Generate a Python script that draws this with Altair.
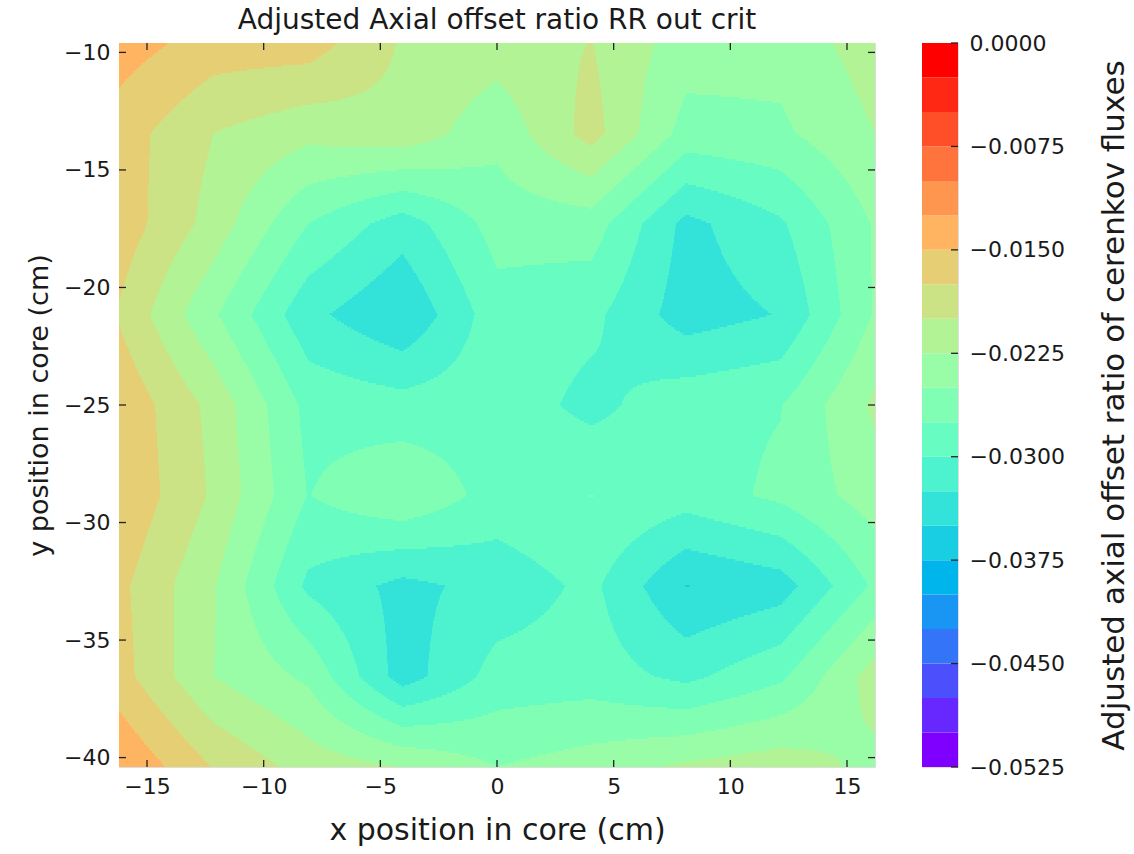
import numpy as np
import pandas as pd
import altair as alt

# ---- grid nodes of the measured field (x across, y down from top) ----
x_nodes = [-16.2, -12.15, -8.1, -4.05, 0.0, 4.05, 8.1, 12.15, 16.2]
y_nodes = [-9.6, -13.45, -17.3, -21.15, -25.0, -28.85, -32.7, -36.55, -40.4]

# adjusted axial offset ratio at each node, one list per y row (top to bottom)
row_y0 = [-0.01375, -0.016125, -0.01625, -0.02025, -0.02125, -0.01995, -0.02375, -0.0240, -0.02125]
row_y1 = [-0.01625, -0.0200, -0.02175, -0.020825, -0.02425, -0.0190, -0.0260, -0.0255, -0.0225]
row_y2 = [-0.0160, -0.0210, -0.0275, -0.031325, -0.0265, -0.02625, -0.03325, -0.030375, -0.02475]
row_y3 = [-0.01775, -0.024625, -0.0318, -0.034875, -0.0285, -0.02935, -0.03375, -0.032375, -0.02475]
row_y4 = [-0.0155, -0.02075, -0.02825, -0.0290, -0.0285, -0.03075, -0.028375, -0.027625, -0.0220]
row_y5 = [-0.01525, -0.020375, -0.027575, -0.02525, -0.02855, -0.02745, -0.02885, -0.026925, -0.02375]
row_y6 = [-0.016875, -0.022275, -0.030525, -0.03325, -0.031575, -0.0294, -0.03505, -0.033725, -0.0270]
row_y7 = [-0.0165, -0.0225, -0.0255, -0.03375, -0.0290, -0.02875, -0.030625, -0.0280, -0.02125]
row_y8 = [-0.0125, -0.017625, -0.0210, -0.0225, -0.0250, -0.02375, -0.0220, -0.0210, -0.02325]

# contour levels and tick labels
levels = [-0.0525, -0.0500, -0.0475, -0.0450, -0.0425, -0.0400, -0.0375, -0.0350,
          -0.0325, -0.0300, -0.0275, -0.0250, -0.0225, -0.0200, -0.0175, -0.0150,
          -0.0125, -0.0100, -0.0075, -0.0050, -0.0025, 0.0000]
cbar_ticks = [0.0, -0.0075, -0.0150, -0.0225, -0.0300, -0.0375, -0.0450, -0.0525]
x_ticks = [-15, -10, -5, 0, 5, 10, 15]
y_ticks = [-10, -15, -20, -25, -30, -35, -40]

TITLE = "Adjusted Axial offset ratio RR out crit"
XLABEL = "x position in core (cm)"
YLABEL = "y position in core (cm)"
CLABEL = "Adjusted axial offset ratio of cerenkov fluxes"

# ---- rainbow colormap, one colour per band ----
nb = len(levels) - 1


def rainbow(t):
    r = min(1.0, abs(2 * t - 0.5))
    g = np.sin(np.pi * t)
    b = np.cos(np.pi * t / 2)
    return "#%02x%02x%02x" % tuple(int(round(max(0, min(1, c)) * 255)) for c in (r, g, b))


band_colors = [rainbow(i / (nb - 1)) for i in range(nb)]
color_scale = alt.Scale(domain=list(range(nb)), range=band_colors)

# ---- fill the plot area: linear interpolation between nodes, banded by level ----
Z = np.array([row_y0, row_y1, row_y2, row_y3, row_y4, row_y5, row_y6, row_y7, row_y8])
xn = np.array(x_nodes)
yn = np.array(y_nodes)
W, H = 756, 724
NX, NY = 756, 362
x0, x1 = xn[0], xn[-1]
ytop, ybot = yn[0], yn[-1]
dx = (x1 - x0) / NX
dy = (ytop - ybot) / NY

xc = x0 + (np.arange(NX) + 0.5) * dx
fx = (xc - x0) / (xn[1] - xn[0])
ix = np.clip(np.floor(fx).astype(int), 0, len(xn) - 2)
tx = fx - ix

lv = np.array(levels)
rows = []
for iy in range(NY):
    yc = ytop - (iy + 0.5) * dy
    fy = (ytop - yc) / (yn[0] - yn[1])
    jy = int(min(max(np.floor(fy), 0), len(yn) - 2))
    ty = fy - jy
    za = Z[jy, ix] * (1 - tx) + Z[jy, ix + 1] * tx
    zb = Z[jy + 1, ix] * (1 - tx) + Z[jy + 1, ix + 1] * tx
    v = za * (1 - ty) + zb * ty
    k = np.clip(np.searchsorted(lv, v, side="right") - 1, 0, nb - 1)
    start = 0
    for c in range(1, NX + 1):
        if c == NX or k[c] != k[start]:
            rows.append({
                "x": x0 + start * dx,
                "x2": x0 + c * dx,
                "y": ytop - iy * dy,
                "y2": ytop - (iy + 1) * dy,
                "k": int(k[start]),
            })
            start = c
cells = pd.DataFrame(rows)

FONT = "DejaVu Sans"
TXT = "#1a1a1a"

xscale = alt.Scale(domain=[x0, x1], nice=False, zero=False)
yscale = alt.Scale(domain=[ybot, ytop], nice=False, zero=False)
common = dict(ticks=False, domain=False, grid=False, labelFontSize=22, labelFont=FONT,
              titleFont=FONT, labelColor=TXT, titleColor=TXT, titleFontWeight="normal")
xaxis = alt.Axis(values=x_ticks, format="d", title=XLABEL, titleFontSize=30,
                 labelPadding=9, titlePadding=18, **common)
yaxis = alt.Axis(values=y_ticks, format="d", title=YLABEL, titleFontSize=27,
                 labelPadding=9, titlePadding=10, **common)

fill = alt.Chart(cells).mark_rect(strokeWidth=0).encode(
    x=alt.X("x:Q", scale=xscale, axis=xaxis),
    x2="x2:Q",
    y=alt.Y("y:Q", scale=yscale, axis=yaxis),
    y2="y2:Q",
    color=alt.Color("k:O", scale=color_scale, legend=None),
)

xt = pd.DataFrame({"x": x_ticks})
yt = pd.DataFrame({"y": y_ticks})
TL = 7
tick_style = dict(color="#222222", strokeWidth=1.3)
xt_bottom = alt.Chart(xt).mark_rule(**tick_style).encode(
    x=alt.X("x:Q", scale=xscale, axis=xaxis), y=alt.value(H), y2=alt.value(H - TL))
xt_top = alt.Chart(xt).mark_rule(**tick_style).encode(
    x=alt.X("x:Q", scale=xscale, axis=xaxis), y=alt.value(0), y2=alt.value(TL))
yt_left = alt.Chart(yt).mark_rule(**tick_style).encode(
    y=alt.Y("y:Q", scale=yscale, axis=yaxis), x=alt.value(0), x2=alt.value(TL))
yt_right = alt.Chart(yt).mark_rule(**tick_style).encode(
    y=alt.Y("y:Q", scale=yscale, axis=yaxis), x=alt.value(W), x2=alt.value(W - TL))

main = alt.layer(fill, xt_bottom, xt_top, yt_left, yt_right).properties(
    width=W, height=H,
    title=alt.TitleParams(TITLE, fontSize=28, font=FONT, fontWeight="normal", color=TXT, offset=6),
)

# ---- colour bar ----
bands = pd.DataFrame({"lo": levels[:-1], "hi": levels[1:], "k": list(range(nb))})
CW = 36
cscale = alt.Scale(domain=[levels[0], levels[-1]], nice=False, zero=False)
caxis = alt.Axis(orient="right", values=cbar_ticks, format=".4f", title=CLABEL,
                 titleFontSize=31, labelPadding=11, titlePadding=66, titleAngle=270, **common)
cbar = alt.Chart(bands).mark_rect(strokeWidth=0).encode(
    x=alt.value(0), x2=alt.value(CW),
    y=alt.Y("lo:Q", scale=cscale, axis=caxis),
    y2="hi:Q",
    color=alt.Color("k:O", scale=color_scale, legend=None),
)
ct = pd.DataFrame({"lo": cbar_ticks})
cbar_ticks_m = alt.Chart(ct).mark_rule(**tick_style).encode(
    y=alt.Y("lo:Q", scale=cscale, axis=caxis), x=alt.value(CW), x2=alt.value(CW - TL))
cbar_chart = alt.layer(cbar, cbar_ticks_m).properties(width=CW, height=H)

chart = alt.hconcat(main, cbar_chart, spacing=47, bounds="flush").properties(
    padding={"left": 25, "top": 6, "right": 2, "bottom": 3},
).configure_view(stroke="#333333", strokeWidth=1.5).configure(background="white")

chart.save("out.html", embed_options={"renderer": "svg", "actions": False})
